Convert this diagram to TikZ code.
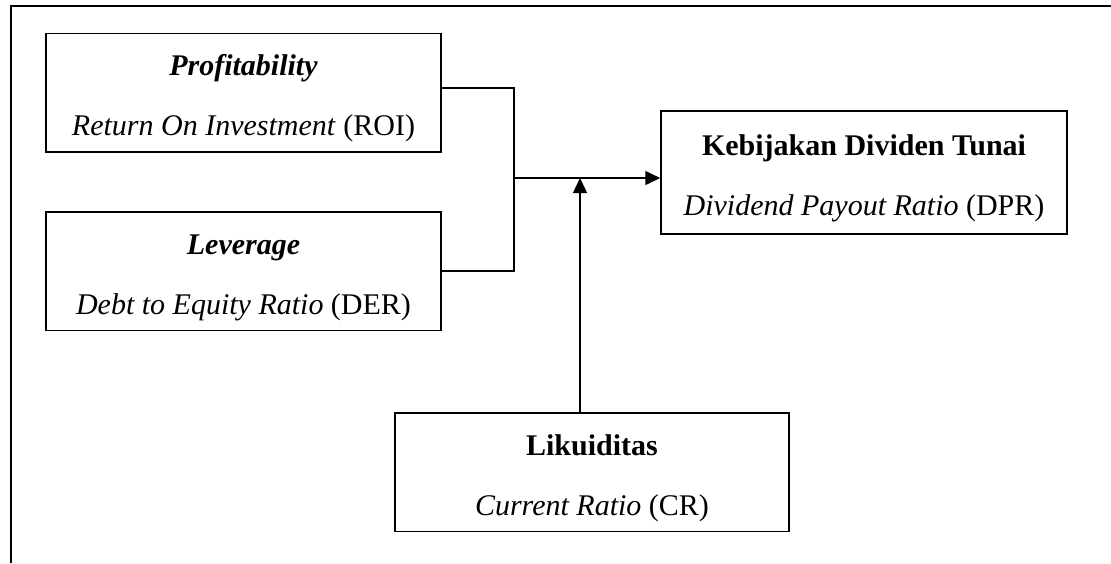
\documentclass[tikz,border=0pt]{standalone}
\usepackage{fontspec}
\setmainfont{Liberation Serif}
\usetikzlibrary{arrows.meta, positioning, calc}
\tikzset{
  every picture/.style={line width=0.6pt},
  varbox/.style={draw=black, align=center, inner sep=0pt, minimum width=158pt, minimum height=47.4pt,
    font=\fontsize{12}{14}\selectfont},
  arrow/.style={-{Triangle[length=6pt, width=5.6pt]}, draw=black},
  frame/.style={draw=black, line width=0.9pt},
}

\begin{document}
\begin{tikzpicture}[x=0.4pt, y=-0.4pt]
  \useasboundingbox (0,0) rectangle (1111,563);
  % outer frame (only top and left side)
  \draw[frame] (1111,6) -- (11,6) -- (11,563);
  % independent variables
  \node[varbox] (roi) at (243.5,92.5) {\rule{0pt}{13pt}\textbf{\textit{Profitability}}\\[10pt]\textit{Return On Investment} (ROI)};
  \node[varbox] (der) at (243.5,271) {\rule{0pt}{13pt}\textbf{\textit{Leverage}}\\[10pt]\textit{Debt to Equity Ratio} (DER)};
  % dependent variable
  \node[varbox, minimum width=162.4pt, minimum height=49.2pt] (dpr) at (864,172.5) {\rule{0pt}{13pt}\textbf{Kebijakan Dividen Tunai}\\[10pt]\textit{Dividend Payout Ratio} (DPR)};
  % moderating variable
  \node[varbox, minimum width=157.6pt] (cr) at (592,472) {\rule{0pt}{13pt}\textbf{Likuiditas}\\[10pt]\textit{Current Ratio} (CR)};
  % joining lines
  \coordinate (join) at (514,178);
  \coordinate (meet) at (580,178);
  \draw ([yshift=1.8pt]roi.east) -| (join);
  \draw (der.east) -| (join);
  \draw[arrow] (join) -- (join -| dpr.west);
  \draw[arrow] (meet |- cr.north) -- (meet);
\end{tikzpicture}
\end{document}
